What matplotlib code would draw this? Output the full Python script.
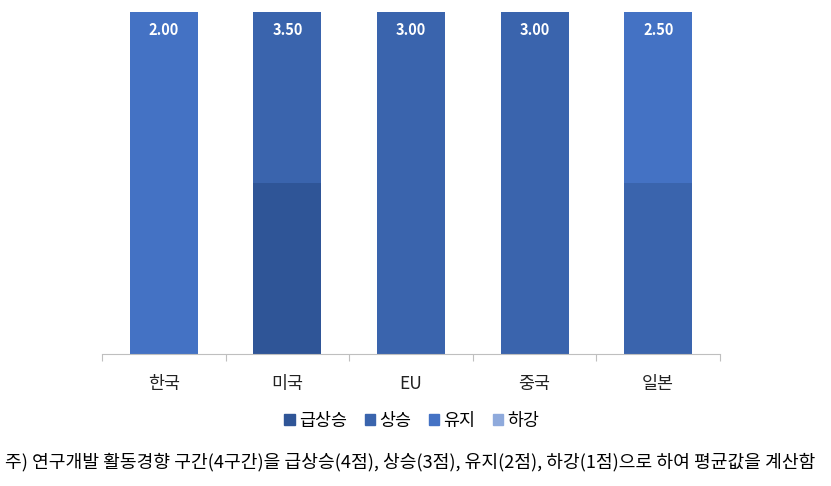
import matplotlib.pyplot as plt
import numpy as np
from matplotlib.patches import Patch

plt.rcParams['font.family'] = ['Noto Sans CJK KR', 'DejaVu Sans']

countries = ['한국', '미국', 'EU', '중국', '일본']
series = ['급상승', '상승', '유지', '하강']
# share of responses (%) per category
rapid = [0, 50, 0, 0, 0]
rise = [0, 50, 100, 100, 50]
keep = [100, 0, 0, 0, 50]
fall = [0, 0, 0, 0, 0]
avg = [2.00, 3.50, 3.00, 3.00, 2.50]

colors = ['#2F5597', '#3A64AD', '#4472C4', '#8FAADC']

fig = plt.figure(figsize=(8.31, 4.86), dpi=100)
ax = fig.add_axes([102/831, 1-354/486, 618/831, 342/486])

x = np.arange(len(countries))
bottom = np.zeros(len(countries))
for vals, c in zip([rapid, rise, keep, fall], colors):
    ax.bar(x, vals, 0.55, bottom=bottom, color=c)
    bottom += np.array(vals)

for xi, v in zip(x, avg):
    ax.text(xi, 94.7, f'{v:.2f}', ha='center', va='center', color='white',
            fontsize=10.5, fontweight='bold')

ax.set_xlim(-0.5, len(countries) - 0.5)
ax.set_ylim(0, 100)
ax.set_yticks([])
for s in ['top', 'right', 'left']:
    ax.spines[s].set_visible(False)
ax.spines['bottom'].set_color('#BFBFBF')
ax.set_xticks(np.arange(-0.5, len(countries)), minor=False)
ax.set_xticklabels([])
ax.tick_params(axis='x', length=5, color='#BFBFBF')
for xi, name in zip(x, countries):
    ax.text(xi, -8.8, name, ha='center', va='center', fontsize=12.5, color='#222222')

handles = [Patch(color=c) for c in colors]
fig.legend(handles, series, loc='center', bbox_to_anchor=(412/831, 1-421/486),
           ncol=4, frameon=False, fontsize=12.5, handlelength=0.6, handleheight=0.6,
           handletextpad=0.25, columnspacing=1.0)

fig.text(5/831, 1-462/486, '주) 연구개발 활동경향 구간(4구간)을 급상승(4점), 상승(3점), 유지(2점), 하강(1점)으로 하여 평균값을 계산함',
         ha='left', va='center', fontsize=13.1, color='black')

fig.savefig('out.png', dpi=100)
